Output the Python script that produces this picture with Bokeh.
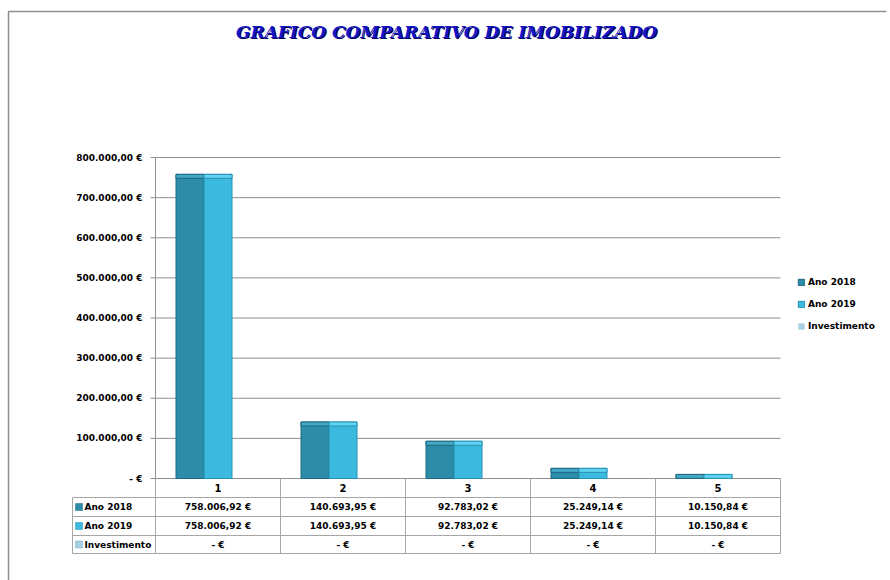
from bokeh.plotting import figure
from bokeh.models import Range1d, ColumnDataSource, Legend, LegendItem
from bokeh.transform import dodge
from bokeh.core.properties import value
from bokeh.embed import file_html
from bokeh.resources import INLINE

# ---- data -------------------------------------------------------------
TITLE = "GRAFICO COMPARATIVO DE IMOBILIZADO"
CATEGORIES = [1, 2, 3, 4, 5]
ANO_2018 = [758006.92, 140693.95, 92783.02, 25249.14, 10150.84]
ANO_2019 = [758006.92, 140693.95, 92783.02, 25249.14, 10150.84]
INVESTIMENTO = [0.0, 0.0, 0.0, 0.0, 0.0]
SERIES_NAMES = ["Ano 2018", "Ano 2019", "Investimento"]
TICK_VALUES = [0, 100000, 200000, 300000, 400000, 500000, 600000, 700000, 800000]
TICK_LABELS = ["- €", "100.000,00 €", "200.000,00 €", "300.000,00 €",
               "400.000,00 €", "500.000,00 €", "600.000,00 €", "700.000,00 €",
               "800.000,00 €"]

# ---- style & layout (pixels) ------------------------------------------
FONT = "DejaVu Sans"
LINE_GREY = "#8f8f8f"
CELL_GREY = "#a6a6a6"
FILL = ["#2d8ca8", "#3cb9de", "#a9cfe2"]
EDGE = ["#1e6880", "#2792b4", "#7fb1c8"]
CAP = ["#44a8c6", "#62d2f1", "#c4e0ec"]

W, H = 890, 580
PLOT_L, PLOT_R = 155, 780          # plot area, left/right edges
PLOT_T, ZERO_Y = 157, 478          # top of value axis, zero line
CAT_PX = (PLOT_R - PLOT_L) / len(CATEGORIES)
ROW_EDGES = [478, 497, 516, 535, 553]
TABLE_L = 72
Y_MAX = TICK_VALUES[-1]
UNITS_PER_PX = Y_MAX / (ZERO_Y - PLOT_T)
BAR_W = 0.224
CAP_H = 4 * UNITS_PER_PX           # bevel height, about 4 px


def euro(v):
    if v == 0:
        return "- €"
    s = f"{v:,.2f}".replace(",", "X").replace(".", ",").replace("X", ".")
    return s + " €"


# the frame covers the whole canvas; categories sit at 1..5 on x
x_start = 0.5 - PLOT_L / CAT_PX
x_end = 0.5 + (W - PLOT_L) / CAT_PX
y_start = -(H - ZERO_Y) * UNITS_PER_PX
y_end = ZERO_Y * UNITS_PER_PX

p = figure(width=W, height=H, output_backend="svg", toolbar_location=None,
           x_axis_type=None, y_axis_type=None,
           x_range=Range1d(x_start, x_end), y_range=Range1d(y_start, y_end),
           min_border=0)
p.extra_x_ranges = {"px": Range1d(0, W)}
p.extra_y_ranges = {"px": Range1d(H, 0)}
p.outline_line_color = None
p.grid.visible = False
p.background_fill_color = "white"
p.border_fill_color = "white"

# outer chart border (top and left edges as one polyline)
p.line(x=[W - 4, 8, 8], y=[11, 11, H], x_range_name="px", y_range_name="px",
       line_color=LINE_GREY, line_width=1.5)

# title with a dark drop shadow
for dx, col in ((1.2, "#000050"), (0, "#1414c8")):
    p.text(x=[446 + dx], y=[31 + dx], text=[TITLE], x_range_name="px",
           y_range_name="px", text_align="center", text_baseline="middle",
           text_font=value("DejaVu Serif"), text_font_style="bold italic",
           text_font_size="17px", text_color=col)

# gridlines, value axis, ticks and tick labels
n = len(TICK_VALUES)
p.segment(x0=[0.5] * n, x1=[0.5 + len(CATEGORIES)] * n, y0=TICK_VALUES,
          y1=TICK_VALUES, line_color=LINE_GREY, line_width=1)
p.segment(x0=[PLOT_L - 5] * n, x1=[PLOT_L] * n, y0=TICK_VALUES,
          y1=TICK_VALUES, x_range_name="px", line_color=LINE_GREY,
          line_width=1)
p.segment(x0=[PLOT_L], x1=[PLOT_L], y0=[0], y1=[Y_MAX], x_range_name="px",
          line_color=LINE_GREY, line_width=1)
p.text(x=[PLOT_L - 13] * n, y=TICK_VALUES, text=TICK_LABELS,
       x_range_name="px", text_align="right", text_baseline="middle",
       text_font=value(FONT), text_font_style="bold", text_font_size="9px",
       text_color="black")

# bars
caps = {}
for key, vals in (("a", ANO_2018), ("b", ANO_2019), ("c", INVESTIMENTO)):
    caps[key + "_cap"] = [max(v - CAP_H, 0) for v in vals]
src = ColumnDataSource(dict(cat=CATEGORIES, a=ANO_2018, b=ANO_2019,
                            c=INVESTIMENTO, **caps))
renderers = []
for i, key in enumerate(["a", "b", "c"]):
    xs = dodge("cat", (i - 1) * BAR_W, range=p.x_range)
    r = p.vbar(x=xs, top=key, bottom=0, width=BAR_W, source=src,
               fill_color=FILL[i], line_color=EDGE[i], line_width=1,
               line_alpha=0 if key == "c" else 1)
    if key != "c":
        p.vbar(x=xs, top=key, bottom=key + "_cap", width=BAR_W, source=src,
               fill_color=CAP[i], line_color=EDGE[i], line_width=1)
    renderers.append(r)

# data table under the bars
nc = len(CATEGORIES)
edges_x = [c - 0.5 for c in CATEGORIES] + [CATEGORIES[-1] + 0.5]
# vertical cell borders of the category columns
p.segment(x0=edges_x, x1=edges_x, y0=[ROW_EDGES[0]] * (nc + 1),
          y1=[ROW_EDGES[-1]] * (nc + 1), y_range_name="px",
          line_color=CELL_GREY, line_width=1)
# horizontal borders of the category columns
p.segment(x0=[edges_x[0]] * 4, x1=[edges_x[-1]] * 4, y0=ROW_EDGES[1:],
          y1=ROW_EDGES[1:], y_range_name="px", line_color=CELL_GREY,
          line_width=1)
# the series-name column on the left
p.segment(x0=[TABLE_L] * 4 + [TABLE_L], x1=[PLOT_L] * 4 + [TABLE_L],
          y0=ROW_EDGES[1:] + [ROW_EDGES[1]],
          y1=ROW_EDGES[1:] + [ROW_EDGES[-1]],
          x_range_name="px", y_range_name="px", line_color=CELL_GREY,
          line_width=1)

centers = [(ROW_EDGES[k] + ROW_EDGES[k + 1]) / 2 for k in range(4)]
# category numbers in the header row
p.text(x=CATEGORIES, y=[centers[0]] * nc, text=[str(c) for c in CATEGORIES],
       y_range_name="px", text_align="center", text_baseline="middle",
       text_font=value(FONT), text_font_style="bold", text_font_size="10px",
       text_color="black")
# series values
rows = [[euro(v) for v in ANO_2018],
        [euro(v) for v in ANO_2019],
        [euro(v) for v in INVESTIMENTO]]
tx, ty, tt = [], [], []
for k, row in enumerate(rows):
    tx += CATEGORIES
    ty += [centers[k + 1]] * nc
    tt += row
p.text(x=tx, y=ty, text=tt, y_range_name="px", text_align="center",
       text_baseline="middle", text_font=value(FONT), text_font_style="bold",
       text_font_size="9px", text_color="black")

# series names with colour keys
name_y = centers[1:]
p.rect(x=[TABLE_L + 6.5] * 3, y=name_y, width=7, height=7,
       width_units="screen", height_units="screen", x_range_name="px",
       y_range_name="px", fill_color=FILL, line_color=EDGE, line_width=0.5)
p.text(x=[TABLE_L + 12] * 3, y=name_y, text=SERIES_NAMES, x_range_name="px",
       y_range_name="px", text_align="left", text_baseline="middle",
       text_font=value(FONT), text_font_style="bold", text_font_size="9px",
       text_color="black")

# legend on the right
legend = Legend(items=[LegendItem(label=nm, renderers=[r])
                       for nm, r in zip(SERIES_NAMES, renderers)],
                location=(797, H - 333), orientation="vertical", padding=0,
                margin=0, spacing=8, glyph_width=8, glyph_height=8,
                label_height=14, label_standoff=3,
                label_text_font=FONT, label_text_font_style="bold",
                label_text_font_size="9px", label_text_color="black",
                border_line_alpha=0, background_fill_alpha=0)
p.add_layout(legend)

open("out.html", "w").write(file_html(p, INLINE))
